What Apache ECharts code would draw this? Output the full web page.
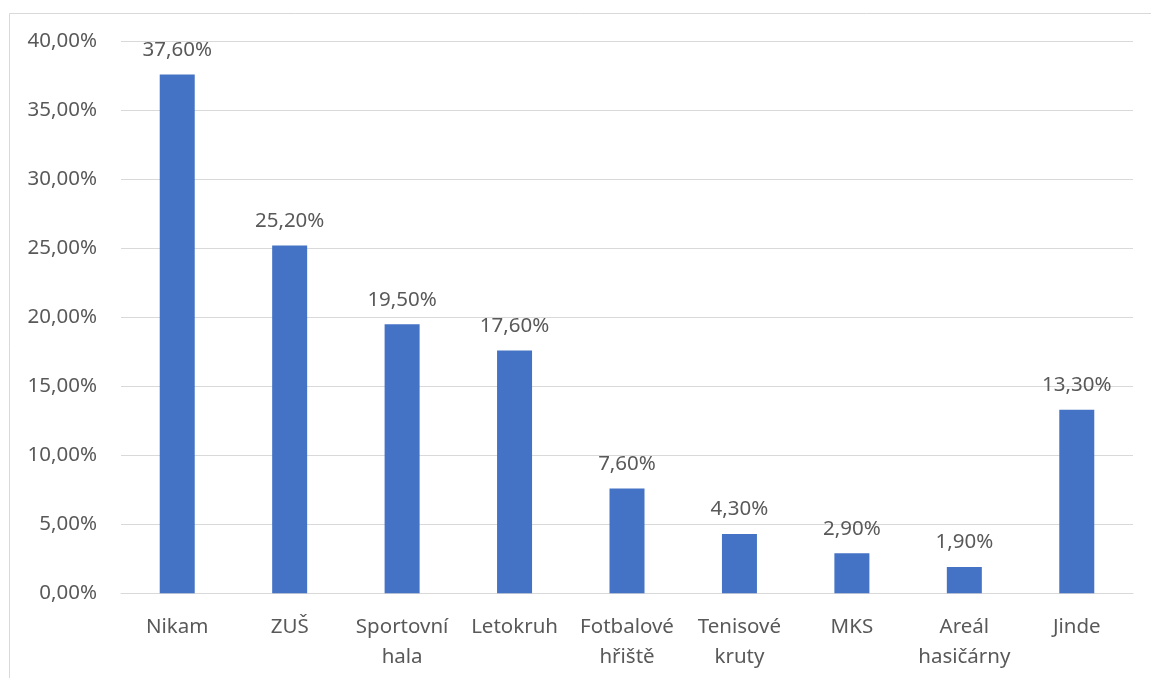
<!DOCTYPE html>
<html>
<head>
<meta charset="utf-8">
<script src="https://cdn.jsdelivr.net/npm/echarts@6/dist/echarts.min.js"></script>
<style>
html,body{margin:0;padding:0;background:#fff;}
#chart{width:1151px;height:678px;}
</style>
</head>
<body>
<div id="chart"></div>
<script>
const categories = ["Nikam", "ZUŠ", "Sportovní hala", "Letokruh", "Fotbalové hřiště", "Tenisové kruty", "MKS", "Areál hasičárny", "Jinde"];
const values = [37.6, 25.2, 19.5, 17.6, 7.6, 4.3, 2.9, 1.9, 13.3];
const yTicks = { min: 0, max: 40, interval: 5 };

const fmt = v => Number(v).toFixed(2).replace('.', ',') + '%';
const textColor = '#595959';
const font = 'Noto Sans';

const chart = echarts.init(document.getElementById('chart'), null, { renderer: 'canvas' });
chart.setOption({
  animation: false,
  backgroundColor: '#ffffff',
  graphic: [{
    type: 'rect',
    shape: { x: 9.5, y: 13.5, width: 1300, height: 800 },
    style: { fill: 'none', stroke: '#d9d9d9', lineWidth: 1 },
    silent: true
  }],
  grid: { left: 121, right: 18, top: 41.3, bottom: 84.7, containLabel: false },
  xAxis: {
    type: 'category',
    data: categories,
    axisLine: { show: true, lineStyle: { color: '#d9d9d9', width: 1 } },
    axisTick: { show: false },
    axisLabel: {
      color: textColor, fontFamily: font, fontSize: 20.5, lineHeight: 30, margin: 19,
      interval: 0,
      formatter: v => v.replace(' ', '\n')
    }
  },
  yAxis: {
    type: 'value',
    min: yTicks.min, max: yTicks.max, interval: yTicks.interval,
    axisLine: { show: false },
    axisTick: { show: false },
    splitLine: { lineStyle: { color: '#d9d9d9', width: 1 } },
    axisLabel: { color: textColor, fontFamily: font, fontSize: 20.5, margin: 24, formatter: fmt }
  },
  series: [{
    type: 'bar',
    data: values,
    barWidth: 35,
    itemStyle: { color: '#4472c4' },
    label: {
      show: true, position: 'top', distance: 14,
      color: textColor, fontFamily: font, fontSize: 20.5,
      formatter: p => fmt(p.value)
    }
  }]
});
</script>
</body>
</html>
